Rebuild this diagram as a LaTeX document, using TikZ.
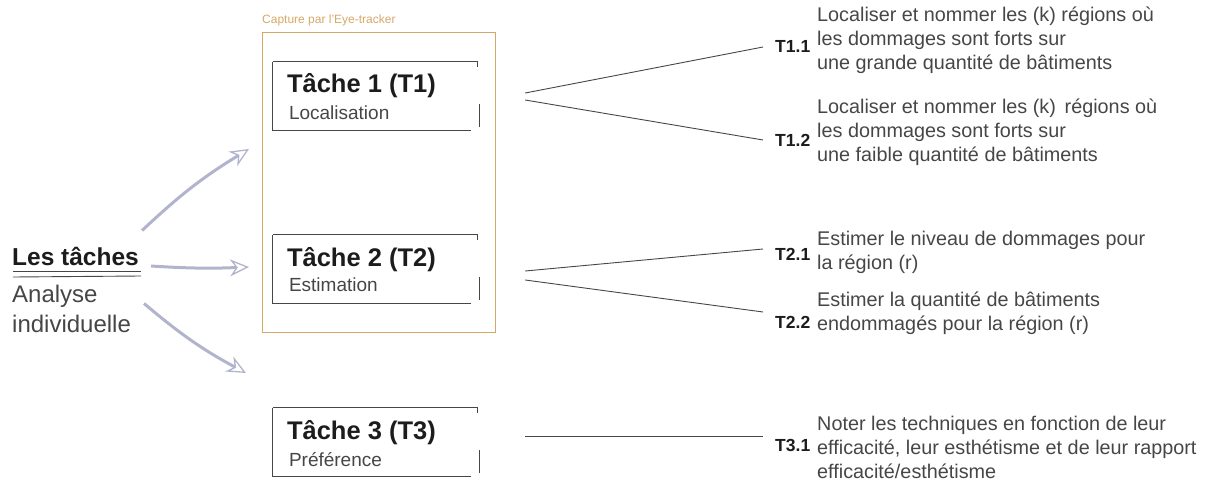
\documentclass[tikz,border=0pt]{standalone}
\usepackage{fontspec}
\setmainfont{Liberation Sans}
\usetikzlibrary{arrows.meta,calc}
\definecolor{capture}{RGB}{214,168,104}
\definecolor{crayon}{RGB}{70,70,70}
\definecolor{fleuve}{RGB}{178,180,206}
\definecolor{encre}{RGB}{28,28,28}
\definecolor{gris}{RGB}{70,70,70}
\begin{document}
\begin{tikzpicture}[x=1pt,y=-1pt,
  tachebox/.style={minimum width=204pt,minimum height=68pt,inner sep=0pt},
  titre/.style={font=\bfseries\fontsize{25.5}{27}\selectfont,text=encre,anchor=west,inner sep=0pt},
  soustitre/.style={font=\fontsize{19}{21}\selectfont,text=gris,anchor=west,inner sep=0pt},
  code/.style={font=\bfseries\fontsize{17.5}{19}\selectfont,text=encre,anchor=west,inner sep=0pt},
  detail/.style={font=\fontsize{19.8}{24}\selectfont,text=gris,anchor=north west,align=left,inner sep=0pt},
  trait/.style={crayon,line width=0.8pt},
  lien/.style={crayon,line width=0.9pt},
  fleche/.style={fleuve,line width=3pt,-{Stealth[open,length=19pt,width=17pt,line width=1.3pt]}}]
\useasboundingbox (0,0) rectangle (1214,484);
% cadre de capture
\draw[capture,line width=1pt] (262,33) rectangle (495,332);
\node[font=\fontsize{12}{13}\selectfont,text=capture,anchor=west,inner sep=0pt] (capt) at (262,20) {Capture par l'Eye-tracker};
% les taches
\node[tachebox] (t1) at (375,96) {};
\node[tachebox] (t2) at (375,269) {};
\node[tachebox] (t3) at (375,442) {};
\foreach \t in {t1,t2,t3}{
  \draw[trait] (\t.north west) -- (\t.north east) -- ++(0,5);
  \draw[trait] (\t.north west) -- (\t.south west) -- ($(\t.south east)+(-6,0)$);
  \draw[trait] ($(\t.east)+(2,8)$) -- ($(\t.south east)+(2,-3)$);
}
\node[titre] (t1a) at ($(t1.west)+(14,-10)$) {Tâche 1 (T1)};
\node[soustitre] (t1b) at ($(t1.west)+(16,17)$) {Localisation};
\node[titre] (t2a) at ($(t2.west)+(14,-9)$) {Tâche 2 (T2)};
\node[soustitre] (t2b) at ($(t2.west)+(16,16)$) {Estimation};
\node[titre] (t3a) at ($(t3.west)+(14,-9)$) {Tâche 3 (T3)};
\node[soustitre] (t3b) at ($(t3.west)+(16,18)$) {Préférence};
% titre de gauche
\node[font=\bfseries\fontsize{24.5}{26}\selectfont,text=encre,anchor=west,inner sep=0pt] (les) at (12,256) {Les tâches};
\draw[crayon,line width=0.9pt] (13,271) -- (141,271);
\draw[crayon,line width=0.9pt] (13,277) -- (141,276);
\node[font=\fontsize{24}{30}\selectfont,text=gris,anchor=north west,align=left,inner sep=0pt] (anal) at (12,285) {Analyse\\individuelle};
% fleches
\coordinate (f1) at (249,149);
\coordinate (f2) at (249,267);
\coordinate (f3) at (246,373);
\draw[fleche] ($(les.north east)+(3,-16)$) to[bend left=6] (f1);
\draw[fleche] ($(les.east)+(12,10)$) to[bend right=3] (f2);
\draw[fleche] ($(les.south east)+(5,38)$) to[bend right=6] (f3);
% sous-taches
\node[code] (c11) at (775,46) {T1.1};
\node[code] (c12) at (775,140) {T1.2};
\node[code] (c21) at (775,254) {T2.1};
\node[code] (c22) at (775,322) {T2.2};
\node[code] (c31) at (775,445) {T3.1};
\node[detail] (d11) at (817,7) {Localiser et nommer les (k) régions où\\les dommages sont forts sur\\une grande quantité de bâtiments};
\node[detail] (d12) at (817,99) {Localiser et nommer les (k)\, régions où\\les dommages sont forts sur\\une faible quantité de bâtiments};
\node[detail] (d21) at (817,231) {Estimer le niveau de dommages pour\\la région (r)};
\node[detail] (d22) at (817,292) {Estimer la quantité de bâtiments\\endommagés pour la région (r)};
\node[detail] (d31) at (817,416) {Noter les techniques en fonction de leur\\efficacité, leur esthétisme et de leur rapport\\efficacité/esthétisme};
% liens
\draw[lien] ($(t1.east)+(48,-3)$) -- ($(c11.west)+(-12,1)$);
\draw[lien] ($(t1.east)+(48,4)$) -- ($(c12.west)+(-12,0)$);
\draw[lien] ($(t2.east)+(48,2)$) -- ($(c21.west)+(-12,-5)$);
\draw[lien] ($(t2.east)+(48,11)$) -- ($(c22.west)+(-12,-10)$);
\draw[lien] ($(t3.east)+(48,-6)$) -- ($(c31.west)+(-12,-9)$);
\end{tikzpicture}
\end{document}
